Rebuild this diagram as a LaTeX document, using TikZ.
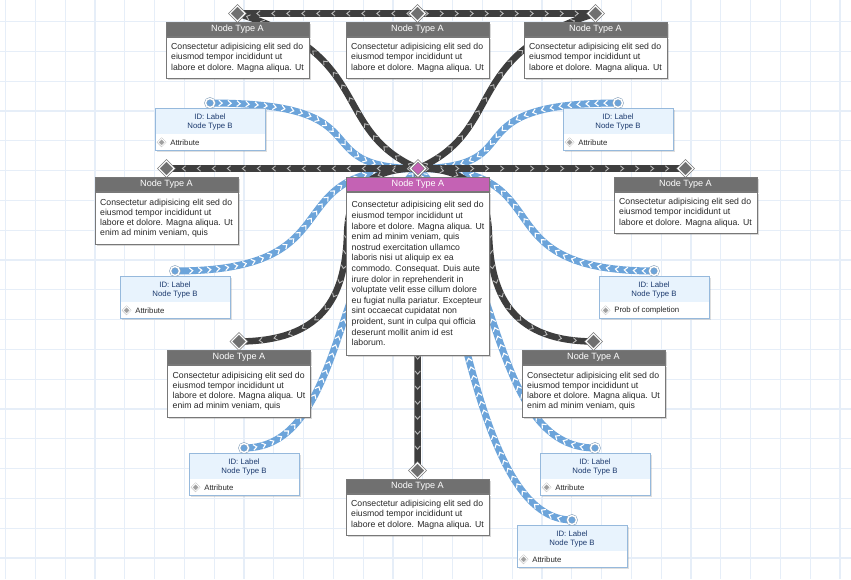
\documentclass[tikz,border=0pt]{standalone}
\usepackage{fontspec}
\setmainfont{Liberation Sans}
\usetikzlibrary{shapes.geometric,shadows,decorations.markings}
\pgfdeclarelayer{gridlayer}
\pgfdeclarelayer{connlayer}
\pgfsetlayers{gridlayer,connlayer,main}
\definecolor{gridc}{RGB}{230,238,248}
\definecolor{hdr}{RGB}{112,112,112}
\definecolor{hdrpink}{RGB}{196,98,180}
\definecolor{boxline}{RGB}{120,120,120}
\definecolor{bodytxt}{RGB}{40,40,40}
\definecolor{darkc}{RGB}{62,62,62}
\definecolor{chevd}{RGB}{185,185,185}
\definecolor{bluec}{RGB}{108,164,218}
\definecolor{bline}{RGB}{150,185,220}
\definecolor{bfill}{RGB}{232,243,253}
\definecolor{btxtc}{RGB}{28,58,110}
\tikzset{
  ahead/.style={draw=boxline, fill=hdr, line width=0.8pt, minimum width=143pt, minimum height=14pt, inner sep=0pt, text=white, font=\fontsize{9.1}{10}\selectfont, drop shadow={opacity=0.3,shadow xshift=1.5pt,shadow yshift=-1.5pt}},
  pinkhdr/.style={fill=hdrpink},
  abody/.style={draw=boxline, fill=white, line width=0.8pt, minimum width=143pt, inner xsep=5pt, inner ysep=6pt, align=left, text=bodytxt, font=\fontsize{8.7}{10.3}\selectfont, drop shadow={opacity=0.3,shadow xshift=1.5pt,shadow yshift=-1.5pt}},
  dmd/.style={diamond, aspect=1, minimum width=15.5pt, minimum height=15.5pt, inner sep=0pt, fill=hdr, draw=boxline, double=white, double distance=1.2pt, line width=0.6pt},
  dconn/.style={draw=darkc, line width=6.5pt, postaction={decorate, decoration={markings, mark=between positions 9pt and -9pt step 15pt with {\draw[chevd, line width=0.9pt] (-1.6pt,-2.7pt) -- (1.6pt,0pt) -- (-1.6pt,2.7pt);}}}},
  bconn/.style={draw=bluec, line width=7pt, postaction={decorate, decoration={markings, mark=between positions 9pt and -9pt step 9pt with {\draw[white, line width=1.1pt] (1.7pt,-2.9pt) -- (-1.7pt,0pt) -- (1.7pt,2.9pt);}}}},
  bbox/.style={draw=bline, fill=white, line width=0.8pt, minimum width=110pt, minimum height=42pt, inner sep=0pt, drop shadow={opacity=0.25,shadow xshift=1.5pt,shadow yshift=-1.5pt}, path picture={\fill[bfill] (path picture bounding box.north west) rectangle ([yshift=-26pt]path picture bounding box.north east);}},
  btxt/.style={align=center, text=btxtc, font=\fontsize{7.8}{9}\selectfont, inner sep=0pt},
  battr/.style={text=bodytxt, font=\fontsize{7.8}{9}\selectfont, inner sep=0pt},
  bicon/.style={diamond, aspect=1, minimum width=7.5pt, minimum height=7.5pt, inner sep=0pt, fill=gray!75, draw=gray!60, double=white, double distance=0.8pt, line width=0.4pt},
  bcirc/.style={circle, minimum size=9pt, inner sep=0pt, fill=bluec, draw=bline!70!gray, double=white, double distance=1.4pt, line width=0.6pt}
}
\newcommand{\NodeA}[6]{%
  \node[ahead,#5,anchor=north] (h#1) at (#2,#3) {Node Type A};
  \node[abody,#4,anchor=north] (a#1) at (h#1.south) {#6};
  \node[dmd,#5] (d#1) at ([yshift=8.5pt]h#1.north) {};
}
\newcommand{\NodeB}[4]{%
  \node[bbox, anchor=north] (b#1) at (#2,#3) {};
  \node[btxt] (bt#1) at ([yshift=-14pt]b#1.north) {ID: Label\\Node Type B};
  \node[bicon] (bi#1) at ([xshift=7pt,yshift=8.5pt]b#1.south west) {};
  \node[battr, anchor=west] (ba#1) at ([xshift=15.5pt,yshift=8.5pt]b#1.south west) {#4};
  \node[bcirc] (c#1) at ([yshift=5pt]b#1.north) {};
}
\newcommand{\ThreeL}{Consectetur adipisicing elit sed do\\eiusmod tempor incididunt ut\\labore et dolore. Magna aliqua. Ut}
\newcommand{\FourL}{Consectetur adipisicing elit sed do\\eiusmod tempor incididunt ut\\labore et dolore. Magna aliqua. Ut\\enim ad minim veniam, quis}
\begin{document}
\begin{tikzpicture}[x=1pt,y=-1pt]
\useasboundingbox (0,0) rectangle (851,579);
\begin{pgfonlayer}{gridlayer}
  \fill[white] (0,0) rectangle (851,579);
  \foreach \i in {0,...,28} \draw[gridc, line width=1.2pt] ({5.5+29.8*\i},0) -- ({5.5+29.8*\i},579);
  \foreach \j in {0,...,18} \draw[gridc, line width=1.2pt] (0,{21.5+29.8*\j}) -- (851,{21.5+29.8*\j});
\end{pgfonlayer}

% Node Type A boxes
\NodeA{1}{237.5}{22}{minimum height=41pt}{}{\ThreeL}
\NodeA{2}{417.5}{22}{minimum height=41pt}{}{\ThreeL}
\NodeA{3}{595.5}{22}{minimum height=41pt}{}{\ThreeL}
\NodeA{4}{166.5}{177}{minimum height=52pt}{}{\FourL}
\NodeA{5}{685.5}{177}{minimum height=41pt}{}{\ThreeL}
\NodeA{6}{418}{177}{minimum height=163pt, font=\fontsize{8.7}{10.6}\selectfont}{pinkhdr}{Consectetur adipisicing elit sed do\\eiusmod tempor incididunt ut\\labore et dolore. Magna aliqua. Ut\\enim ad minim veniam, quis\\nostrud exercitation ullamco\\laboris nisi ut aliquip ex ea\\commodo. Consequat. Duis aute\\irure dolor in reprehenderit in\\voluptate velit esse cillum dolore\\eu fugiat nulla pariatur. Excepteur\\sint occaecat cupidatat non\\proident, sunt in culpa qui officia\\deserunt mollit anim id est\\laborum.}
\NodeA{7}{239}{350}{minimum height=52pt}{}{\FourL}
\NodeA{8}{593.5}{350}{minimum height=52pt}{}{\FourL}
\NodeA{9}{417.5}{479}{minimum height=41pt}{}{\ThreeL}

% Node Type B boxes
\NodeB{1}{210}{108}{Attribute}
\NodeB{2}{618}{108}{Attribute}
\NodeB{3}{175}{276}{Attribute}
\NodeB{4}{654}{276}{Prob of completion}
\NodeB{5}{244}{453}{Attribute}
\NodeB{6}{595}{453}{Attribute}
\NodeB{7}{572}{525}{Attribute}

\begin{pgfonlayer}{connlayer}
  % blue connectors
  \draw[bconn] (d6.center) .. controls (300,168) and (390,103) .. (c1.center);
  \draw[bconn] (d6.center) .. controls (536,168) and (446,103) .. (c2.center);
  \draw[bconn] (d6.center) .. controls (270,168) and (360,271) .. (c3.center);
  \draw[bconn] (d6.center) .. controls (566,168) and (476,271) .. (c4.center);
  \draw[bconn] (d6.center) .. controls (335,250) and (345,448) .. (c5.center);
  \draw[bconn] (d6.center) .. controls (501,250) and (491,448) .. (c6.center);
  \draw[bconn] (d6.center) .. controls (460,280) and (480,520) .. (c7.center);
  % dark connectors
  \draw[dconn] (d2.center) -- (d1.center);
  \draw[dconn] (d2.center) -- (d3.center);
  \draw[dconn] (d6.center) -- (d4.center);
  \draw[dconn] (d6.center) -- (d5.center);
  \draw[dconn] (d6.center) -- (d9.center);
  \draw[dconn] (d6.center) .. controls (330,130) and (375,55) .. (d1.center);
  \draw[dconn] (d6.center) .. controls (506,130) and (461,55) .. (d3.center);
  \draw[dconn] (d6.center) .. controls (360,168) and (348,200) .. (347,235) .. controls (345,300) and (320,341) .. (d7.center);
  \draw[dconn] (d6.center) .. controls (476,168) and (488,200) .. (489,235) .. controls (491,300) and (516,341) .. (d8.center);
\end{pgfonlayer}
\end{tikzpicture}
\end{document}
